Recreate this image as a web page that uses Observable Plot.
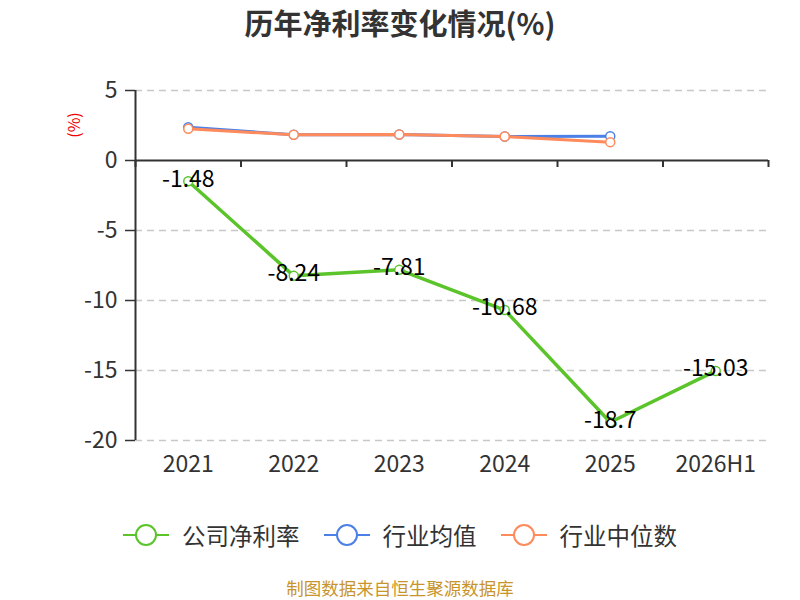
<!DOCTYPE html>
<html>
<head>
<meta charset="utf-8">
<script src="https://cdn.jsdelivr.net/npm/d3@7"></script>
<script src="https://cdn.jsdelivr.net/npm/@observablehq/plot@0.6"></script>
<style>
  html, body { margin: 0; padding: 0; background: #fff; }
  body { width: 800px; height: 600px; position: relative; overflow: hidden; font-family: "Noto Sans CJK SC", "Noto Sans", sans-serif; }
  #title { position: absolute; top: 2px; left: 0; width: 800px; text-align: center; font-size: 29px; font-weight: bold; color: #333; line-height: 40px; }
  #chart { position: absolute; top: 50px; left: 0; }
  #ylabel { position: absolute; left: 60px; top: 113px; color: #e00; font-size: 16px; transform: rotate(-90deg); transform-origin: center; width: 26px; text-align: center; }
  #legend { position: absolute; top: 518px; left: 0; width: 800px; display: flex; justify-content: center; align-items: center; font-size: 23.5px; color: #333; }
  .item { display: flex; align-items: center; margin: 0 12px; }
  .item svg { margin-right: 13px; }
  #caption { position: absolute; top: 577px; left: 0; width: 800px; text-align: center; font-size: 17.5px; color: #c8952c; line-height: 22px; }
</style>
</head>
<body>
<div id="title">历年净利率变化情况(%)</div>
<div id="ylabel">(%)</div>
<div id="chart"></div>
<div id="legend"></div>
<div id="caption">制图数据来自恒生聚源数据库</div>
<script>
const categories = ["2021", "2022", "2023", "2024", "2025", "2026H1"];
const companyNetMargin = [-1.48, -8.24, -7.81, -10.68, -18.7, -15.03];
const industryAverage = [2.38, 1.84, 1.86, 1.71, 1.74];
const industryMedian = [2.26, 1.84, 1.86, 1.71, 1.31];
const yTicks = [5, 0, -5, -10, -15, -20];
const seriesNames = ["公司净利率", "行业均值", "行业中位数"];
const colors = ["#5ac42a", "#4d80e6", "#ff8a5b"];

const toRows = (vals) => vals.map((v, i) => ({i, v, label: categories[i]}));
const company = toRows(companyNetMargin);
const avg = toRows(industryAverage);
const med = toRows(industryMedian);
const bounds = d3.range(categories.length + 1).map(i => i - 0.5);

const chart = Plot.plot({
  width: 800,
  height: 430,
  marginLeft: 135,
  marginRight: 32,
  marginTop: 40,
  marginBottom: 40,
  style: {fontFamily: "'Noto Sans CJK SC', 'Noto Sans', sans-serif", background: "transparent"},
  x: {type: "linear", domain: [-0.5, categories.length - 0.5]},
  y: {domain: [-20, 5]},
  marks: [
    Plot.ruleY(yTicks.filter(t => t !== 0), {stroke: "#c8c8c8", strokeDasharray: "7,5", strokeWidth: 1.5}),
    Plot.axisY({ticks: yTicks, tickFormat: d => String(d), tickSize: 10, tickPadding: 8, fontSize: 23, color: "#333", label: null, strokeWidth: 1.5}),
    Plot.ruleX([-0.5], {y1: -20, y2: 5, stroke: "#333", strokeWidth: 2}),
    Plot.ruleY([0], {stroke: "#333", strokeWidth: 2}),
    Plot.ruleX(bounds, {y1: 0, y2: -0.5, stroke: "#333", strokeWidth: 2}),
    Plot.axisX({ticks: d3.range(categories.length), tickFormat: i => categories[i], tickSize: 0, tickPadding: 15, fontSize: 23, color: "#333", label: null}),
    Plot.line(company, {x: "i", y: "v", stroke: colors[0], strokeWidth: 3.5}),
    Plot.dot(company, {x: "i", y: "v", r: 4.5, fill: "#fff", stroke: colors[0], strokeWidth: 1.5}),
    Plot.line(avg, {x: "i", y: "v", stroke: colors[1], strokeWidth: 3}),
    Plot.dot(avg, {x: "i", y: "v", r: 4.5, fill: "#fff", stroke: colors[1], strokeWidth: 1.5}),
    Plot.line(med, {x: "i", y: "v", stroke: colors[2], strokeWidth: 3}),
    Plot.dot(med, {x: "i", y: "v", r: 4.5, fill: "#fff", stroke: colors[2], strokeWidth: 1.5}),
    Plot.text(company, {x: "i", y: "v", text: d => String(d.v), fontSize: 23, fill: "#000", dy: -2})
  ]
});
document.getElementById("chart").appendChild(chart);

const legend = document.getElementById("legend");
seriesNames.forEach((name, k) => {
  const item = document.createElement("div");
  item.className = "item";
  item.innerHTML = `<svg width="46" height="24"><line x1="0" y1="12" x2="46" y2="12" stroke="${colors[k]}" stroke-width="2"/><circle cx="23" cy="12" r="10" fill="#fff" stroke="${colors[k]}" stroke-width="2"/></svg><span>${name}</span>`;
  legend.appendChild(item);
});
</script>
</body>
</html>
